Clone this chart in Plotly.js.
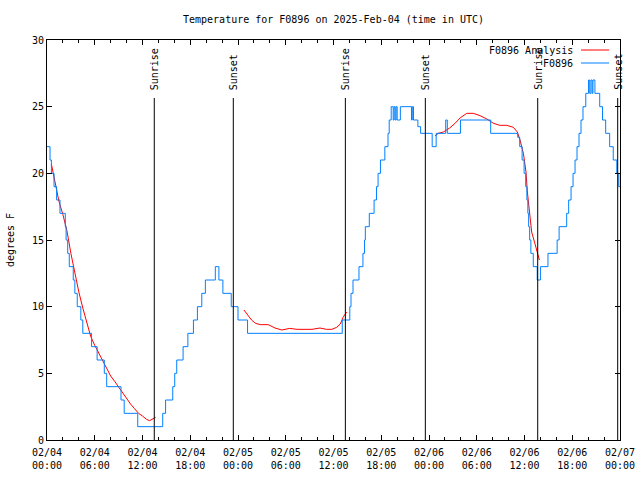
<!DOCTYPE html>
<html>
<head>
<meta charset="utf-8">
<script src="https://cdn.plot.ly/plotly-3.0.1.min.js"></script>
<style>html,body{margin:0;padding:0;background:#fff;}#chart{width:640px;height:480px;}</style>
</head>
<body>
<div id="chart"></div>
<script>
// Hours since 2025-02-04 00:00 UTC
var obsHours = [0,0.38,0.55,0.88,1.21,1.63,2.3,2.4,2.6,2.8,3.3,3.5,3.8,4.25,4.5,5.6,6.3,7.2,7.5,9.3,9.7,11.4,
  14.54,14.9,15.8,16.05,16.3,17.1,17.7,18.4,18.9,19.45,19.9,21.15,21.6,22.1,23.15,24.0,25.2,
  37.1,38.05,38.2,38.45,39.2,39.7,39.9,40.0,40.5,41.1,41.4,41.6,41.9,42.45,42.85,43.0,43.25,43.5,43.62,43.75,43.87,44.0,44.4,45.8,45.9,46.05,46.6,46.95,
  48.4,48.9,50.1,50.3,51.95,55.75,59.15,59.4,59.7,59.95,60.15,60.3,60.42,60.52,60.65,60.8,61.1,61.6,62.0,
  62.95,64.1,64.35,65.3,65.55,65.85,66.1,66.35,66.6,66.85,67.1,67.35,67.7,68.05,68.2,68.35,68.5,68.6,68.85,69.45,69.8,70.2,70.7,71.15,71.6,71.85,72];
var obsTemp = [22,21,20,19,18,17,16,15,14,13,12,11,10,9,8,7,6,5,4,3,2,1,
  2,3,4,5,6,7,8,9,10,11,12,13,12,11,10,9,8,
  9,10,11,12,13,14,15,16,17,18,19,20,21,22,23,24,25,24,25,24,25,24,25,24,25,24,23.5,23,
  22,23,24,23,24,23,22.7,22,21,20,19,18,17,16,15,14,13,12,13,
  14,15,16,17,18,19,20,21,22,23,24,25,26,27,26,27,26,27,26,25,24,23,22,21,20,19,19];

var anaHours = [0.55,1.0,1.5,2.0,2.5,3.0,3.5,4.0,4.5,5.0,5.5,6.0,6.5,7.0,7.5,8.0,8.5,9.0,9.5,10.0,10.5,11.0,11.5,12.0,12.5,12.9,13.3,13.65,
  null,
  24.75,25.3,25.7,26.2,26.8,27.8,28.65,29.5,30.5,31.4,33.3,34.3,35.1,35.8,36.4,36.86,37.2,37.66,
  null,
  48.76,49.18,49.8,50.6,51.27,51.9,52.74,53.57,54.4,55.25,56.1,56.9,57.77,58.6,59.1,59.44,59.86,60.19,60.36,60.6,60.9,61.3,61.74,61.87];
var anaTemp = [20.7,19.3,17.9,16.9,15.7,14.0,12.5,11.1,9.9,8.8,7.75,7.1,6.5,5.9,5.3,4.8,4.4,3.95,3.5,3.1,2.7,2.35,2.0,1.8,1.55,1.45,1.6,1.7,
  null,
  9.75,9.3,9.0,8.75,8.65,8.65,8.4,8.25,8.37,8.3,8.3,8.4,8.3,8.3,8.45,8.7,9.2,9.6,
  null,
  22.8,23.0,23.1,23.4,23.75,24.15,24.5,24.5,24.33,24.08,23.75,23.6,23.6,23.45,23.1,22.5,21.5,20.1,18.6,17.1,15.6,14.75,13.6,13.5];

var sunEventHours = [13.48, 23.41, 37.49, 47.54, 61.66, 71.71];
var sunEventNames = ["Sunrise","Sunset","Sunrise","Sunset","Sunrise","Sunset"];

var tickHours = [0,6,12,18,24,30,36,42,48,54,60,66,72];
var tickLabels = ["02/04<br>00:00","02/04<br>06:00","02/04<br>12:00","02/04<br>18:00",
  "02/05<br>00:00","02/05<br>06:00","02/05<br>12:00","02/05<br>18:00",
  "02/06<br>00:00","02/06<br>06:00","02/06<br>12:00","02/06<br>18:00","02/07<br>00:00"];

var seriesNames = ["F0896 Analysis","F0896"];
var seriesColors = ["#ff0000","#0080ff"];

var FONT = {family:"DejaVu Sans Mono, Liberation Mono, monospace", size:10, color:"#000"};

var traces = [
  {x:anaHours, y:anaTemp, type:"scatter", mode:"lines", name:seriesNames[0], connectgaps:false,
   line:{color:seriesColors[0], width:1}, showlegend:false},
  {x:obsHours, y:obsTemp, type:"scatter", mode:"lines", name:seriesNames[1],
   line:{color:seriesColors[1], width:1, shape:"hv"}, showlegend:false}
];

var shapes = [];
var annotations = [];
sunEventHours.forEach(function(h, i){
  shapes.push({type:"line", xref:"x", yref:"paper", x0:h, x1:h, y0:0, y1:0.855,
    line:{color:"#000", width:1}});
  annotations.push({xref:"x", yref:"paper", x:h, y:0.87, text:sunEventNames[i], textangle:-90,
    showarrow:false, xanchor:"center", yanchor:"bottom", font:FONT});
});

// legend (text right-aligned, sample on the right, like the original)
var legY = [0.975, 0.9425];
seriesNames.forEach(function(n, i){
  annotations.push({xref:"paper", yref:"paper", x:0.9215, y:legY[i], text:n, showarrow:false,
    xanchor:"right", yanchor:"middle", font:FONT});
  shapes.push({type:"line", xref:"paper", yref:"paper", x0:0.932, x1:0.981, y0:legY[i], y1:legY[i],
    line:{color:seriesColors[i], width:1}});
});

var layout = {
  width:640, height:480,
  margin:{l:47, r:20, t:40, b:40, pad:0},
  paper_bgcolor:"#fff", plot_bgcolor:"#fff",
  font:FONT,
  showlegend:false,
  title:{text:"Temperature for F0896 on 2025-Feb-04 (time in UTC)", font:FONT,
    x:0.5, xref:"paper", xanchor:"center", y:0.96, yref:"container", yanchor:"middle"},
  xaxis:{range:[0,72], tickmode:"array", tickvals:tickHours, ticktext:tickLabels,
    ticks:"inside", ticklen:5, tickcolor:"#000", tickwidth:1, mirror:"allticks",
    showline:true, linecolor:"#000", linewidth:1, showgrid:false, zeroline:false,
    ticklabelstandoff:3,
    minor:{dtick:2, tick0:0, ticks:"inside", ticklen:3, tickcolor:"#000", showgrid:false},
    tickfont:FONT, fixedrange:true},
  yaxis:{range:[0,30], dtick:5, tick0:0, ticks:"inside", ticklen:5, tickcolor:"#000", tickwidth:1,
    mirror:"allticks", showline:true, linecolor:"#000", linewidth:1, showgrid:false, zeroline:false,
    tickfont:FONT, title:{text:"degrees F", font:FONT, standoff:15}, fixedrange:true},
  shapes:shapes,
  annotations:annotations
};

Plotly.newPlot("chart", traces, layout, {staticPlot:true, displayModeBar:false});
</script>
</body>
</html>
